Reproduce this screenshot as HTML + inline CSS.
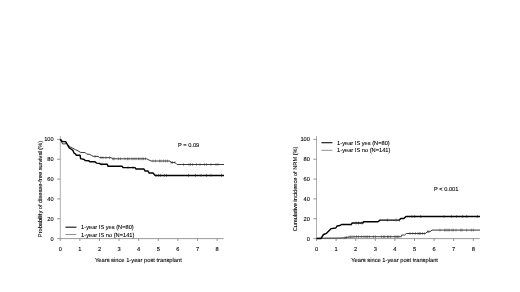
<!DOCTYPE html>
<html><head><meta charset="utf-8"><title>Survival curves</title>
<style>html,body{margin:0;padding:0;background:#fff;overflow:hidden}svg{display:block}</style>
</head><body><svg width="520" height="292" viewBox="0 0 520 292" font-family="'Liberation Sans', sans-serif" font-size="5.7" text-rendering="geometricPrecision" fill="#000"><style>text{stroke:#000;stroke-width:0.1px;paint-order:stroke}</style><rect width="520" height="292" fill="#fff"/><defs><filter id="soft" x="0" y="0" width="520" height="292" filterUnits="userSpaceOnUse"><feGaussianBlur stdDeviation="0.28"/></filter></defs><g filter="url(#soft)"><path d="M60.3,136V238.5" stroke="#777" stroke-width="0.6" fill="none"/><path d="M57.10,238.60H60.3M57.10,218.76H60.3M57.10,198.92H60.3M57.10,179.08H60.3M57.10,159.24H60.3M57.10,139.40H60.3" stroke="#555" stroke-width="0.6" fill="none"/><text x="53.70" y="240.60" text-anchor="end">0</text><text x="53.70" y="220.76" text-anchor="end">20</text><text x="53.70" y="200.92" text-anchor="end">40</text><text x="53.70" y="181.08" text-anchor="end">60</text><text x="53.70" y="161.24" text-anchor="end">80</text><text x="53.70" y="141.40" text-anchor="end">100</text><path d="M60.3,238.6H223.60" stroke="#555" stroke-width="0.6" fill="none"/><path d="M60.30,238.6V241M79.90,238.6V241M99.50,238.6V241M119.10,238.6V241M138.70,238.6V241M158.30,238.6V241M177.90,238.6V241M197.50,238.6V241M217.10,238.6V241" stroke="#555" stroke-width="0.6" fill="none"/><text x="60.30" y="251" text-anchor="middle">0</text><text x="79.90" y="251" text-anchor="middle">1</text><text x="99.50" y="251" text-anchor="middle">2</text><text x="119.10" y="251" text-anchor="middle">3</text><text x="138.70" y="251" text-anchor="middle">4</text><text x="158.30" y="251" text-anchor="middle">5</text><text x="177.90" y="251" text-anchor="middle">6</text><text x="197.50" y="251" text-anchor="middle">7</text><text x="217.10" y="251" text-anchor="middle">8</text><text x="138.40" y="261.6" text-anchor="middle" font-size="5.75">Years since 1-year post transplant</text><path d="M316.5,136V238.5" stroke="#777" stroke-width="0.6" fill="none"/><path d="M313.30,238.60H316.5M313.30,218.76H316.5M313.30,198.92H316.5M313.30,179.08H316.5M313.30,159.24H316.5M313.30,139.40H316.5" stroke="#555" stroke-width="0.6" fill="none"/><text x="309.90" y="240.60" text-anchor="end">0</text><text x="309.90" y="220.76" text-anchor="end">20</text><text x="309.90" y="200.92" text-anchor="end">40</text><text x="309.90" y="181.08" text-anchor="end">60</text><text x="309.90" y="161.24" text-anchor="end">80</text><text x="309.90" y="141.40" text-anchor="end">100</text><path d="M316.5,238.6H479.80" stroke="#555" stroke-width="0.6" fill="none"/><path d="M316.50,238.6V241M336.10,238.6V241M355.70,238.6V241M375.30,238.6V241M394.90,238.6V241M414.50,238.6V241M434.10,238.6V241M453.70,238.6V241M473.30,238.6V241" stroke="#555" stroke-width="0.6" fill="none"/><text x="316.50" y="251" text-anchor="middle">0</text><text x="336.10" y="251" text-anchor="middle">1</text><text x="355.70" y="251" text-anchor="middle">2</text><text x="375.30" y="251" text-anchor="middle">3</text><text x="394.90" y="251" text-anchor="middle">4</text><text x="414.50" y="251" text-anchor="middle">5</text><text x="434.10" y="251" text-anchor="middle">6</text><text x="453.70" y="251" text-anchor="middle">7</text><text x="473.30" y="251" text-anchor="middle">8</text><text x="394.60" y="261.6" text-anchor="middle" font-size="5.75">Years since 1-year post transplant</text><text transform="translate(41.6,189.0) rotate(-90)" text-anchor="middle" font-size="5.65">Probability of disease-free survival (%)</text><text transform="translate(297.0,188.9) rotate(-90)" text-anchor="middle" font-size="5.65">Cumulative incidence of NRM (%)</text><polyline points="60.3,139.3 62.5,143.9 65.1,143.9 66.2,143.3 68.7,145.7 70.3,147 72.85,148.3 75.4,149.6 78,150.85 80.6,152.4 85.2,152.6 86.7,154.1 89.8,154.4 91.4,155.4 93.4,156.4 98,156.4 99.6,157.5 104,157.7 111.5,157.7 112.2,158.8 146.5,158.8 148,159.5 151,161 170,161 171,162.5 175,162.5 177,164.5 224,164.5" stroke="#222" stroke-width="0.9" fill="none"/><path d="M95,155.0V157.8M101,156.2V159.0M103,156.3V159.1M106,156.3V159.1M109.5,156.3V159.1M113,157.4V160.2M114,157.4V160.2M118.5,157.4V160.2M120.5,157.4V160.2M125,157.4V160.2M127.5,157.4V160.2M129,157.4V160.2M132,157.4V160.2M134,157.4V160.2M136,157.4V160.2M138.5,157.4V160.2M140,157.4V160.2M142,157.4V160.2M143.5,157.4V160.2M145.5,157.4V160.2M153,159.6V162.4M155.5,159.6V162.4M159.5,159.6V162.4M161,159.6V162.4M163.5,159.6V162.4M165.5,159.6V162.4M167.5,159.6V162.4M171,161.1V163.9M172.5,161.1V163.9M175,161.1V163.9M183.5,163.1V165.9M189,163.1V165.9M190.5,163.1V165.9M192.5,163.1V165.9M196.5,163.1V165.9M200,163.1V165.9M204.5,163.1V165.9M206.5,163.1V165.9M211,163.1V165.9M216,163.1V165.9M218,163.1V165.9" stroke="#3a3a3a" stroke-width="0.5" fill="none"/><polyline points="60.3,139.3 62.3,141.6 65.65,141.6 67.7,145.2 69.25,147.8 71,149 72.85,150.3 73.6,152 74,153 75.7,154.2 76.2,155.3 80.1,155.3 80.6,158.6 84.2,159.5 85.2,160.5 88.8,160.8 89.8,161.8 95,161.8 96.5,163.1 99.6,163.4 100.6,164.2 107.3,164.2 108,166.2 122,166.2 123,167.6 135,167.6 136,169 144,169 145,171 148,171 149,173 153,173 155,175.4 224,175.4" stroke="#000" stroke-width="1.45" fill="none" stroke-linejoin="round"/><path d="M102,162.7V165.7M128,166.1V169.1M133,166.1V169.1M156,173.9V176.9M158.5,173.9V176.9M160.5,173.9V176.9M164.5,173.9V176.9M166.5,173.9V176.9M188.5,173.9V176.9M195.5,173.9V176.9M201,173.9V176.9M206.5,173.9V176.9M211,173.9V176.9M221.5,173.9V176.9" stroke="#222" stroke-width="0.5" fill="none"/><polyline points="316.6,238.4 321,238.2 340,238 345,237.8 349,237 356,236.7 400.8,236.7 402.2,235 404.5,235 406.4,233.5 425.4,233.5 427.4,231.7 430,231.7 432,230.1 480,230.1" stroke="#222" stroke-width="0.9" fill="none"/><path d="M345,236.4V239.2M346.5,236.1V238.9M349,235.6V238.4M350.5,235.5V238.3M352,235.5V238.3M354,235.4V238.2M356.5,235.3V238.1M358.5,235.3V238.1M361.3,235.3V238.1M364,235.3V238.1M366,235.3V238.1M367.4,235.3V238.1M369.4,235.3V238.1M373.4,235.3V238.1M375.4,235.3V238.1M381.4,235.3V238.1M383.4,235.3V238.1M384.7,235.3V238.1M387.4,235.3V238.1M388.7,235.3V238.1M390.7,235.3V238.1M394.8,235.3V238.1M396,235.3V238.1M397.4,235.3V238.1M398.8,235.3V238.1M401.4,234.6V237.4M410,232.1V234.9M412.7,232.1V234.9M415.4,232.1V234.9M418,232.1V234.9M419.4,232.1V234.9M420.7,232.1V234.9M422.7,232.1V234.9M424.7,232.1V234.9M427.4,230.3V233.1M428.7,230.3V233.1M440,228.7V231.5M444.7,228.7V231.5M446,228.7V231.5M448,228.7V231.5M449.4,228.7V231.5M452,228.7V231.5M453.4,228.7V231.5M456,228.7V231.5M460.7,228.7V231.5M462,228.7V231.5M466.7,228.7V231.5M471.4,228.7V231.5M473.4,228.7V231.5" stroke="#3a3a3a" stroke-width="0.5" fill="none"/><polyline points="316.6,238.4 321,238.4 323.5,234.5 326.5,233.3 331.3,228.6 335.8,228 337,226 340,225.5 341.8,224.4 351,224.5 352.5,223 363,223 363.5,221.7 378,221.7 380,220.1 399.4,220.1 400.8,218.4 404,218.4 406,216.5 480,216.5" stroke="#000" stroke-width="1.45" fill="none" stroke-linejoin="round"/><path d="M351.5,222.5V225.5M356,221.5V224.5M358.5,221.5V224.5M362,221.5V224.5M387.4,218.6V221.6M396,218.6V221.6M399.4,218.6V221.6M412,215.0V218.0M414.7,215.0V218.0M420.7,215.0V218.0M444,215.0V218.0M451.4,215.0V218.0M456.7,215.0V218.0M462.7,215.0V218.0M466.7,215.0V218.0M477.4,215.0V218.0" stroke="#222" stroke-width="0.5" fill="none"/><path d="M65.5,227.2H76.40" stroke="#0a0a0a" stroke-width="1.1"/><path d="M65.5,234.5H76.40" stroke="#444" stroke-width="0.6"/><text x="81.10" y="229.20">1-year IS yes (N=80)</text><text x="81.10" y="236.50">1-year IS no (N=141)</text><path d="M321.5,142.7H332.40" stroke="#0a0a0a" stroke-width="1.1"/><path d="M321.5,150.3H332.40" stroke="#444" stroke-width="0.6"/><text x="337.10" y="144.70">1-year IS yes (N=80)</text><text x="337.10" y="152.30">1-year IS no (N=141)</text><text x="178" y="146.5">P = 0.09</text><text x="434" y="191.3">P &lt; 0.001</text></g></svg></body></html>
